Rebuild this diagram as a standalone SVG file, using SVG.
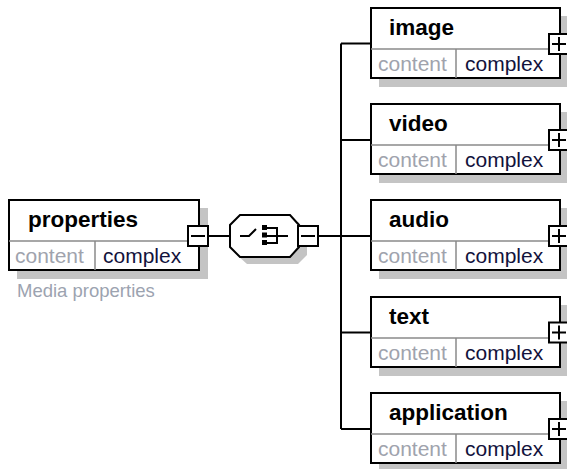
<svg xmlns="http://www.w3.org/2000/svg" width="567" height="469" viewBox="0 0 567 469">
<defs>
<style>
.shadow{fill:#c4c4c4;stroke:none}
.box{fill:#fff;stroke:#000;stroke-width:2}
.div{stroke:#8a8a8a;stroke-width:1.5;fill:none}
.hdr{font-family:"Liberation Sans",Arial,sans-serif;font-size:22.5px;font-weight:bold;fill:#000}
.lab{font-family:"Liberation Sans",Arial,sans-serif;font-size:21px;fill:#a0a3ad}
.val{font-family:"Liberation Sans",Arial,sans-serif;font-size:21px;fill:#12123c}
.doc{font-family:"Liberation Sans",Arial,sans-serif;font-size:18.5px;fill:#9ca3b0}
.pm{fill:#fff;stroke:#000;stroke-width:2}
.sign{stroke:#000;stroke-width:2;fill:none}
.conn{stroke:#000;stroke-width:2;fill:none}
</style>
<g id="plus">
<rect class="pm" x="0" y="0" width="20" height="20"/>
<path class="sign" d="M3 10H17M10 3V17"/>
</g>
<g id="minus">
<rect class="pm" x="0" y="0" width="20" height="20"/>
<path class="sign" d="M3 10H17"/>
</g>
</defs>
<rect width="567" height="469" fill="#fff"/>

<g id="connectors">
<path class="conn" d="M208 236H230"/>
<path class="conn" d="M318 236H341"/>
<path class="conn" d="M341 43.5V429"/>
<path class="conn" d="M341 43.5H371M341 140H371M341 236H371M341 332.5H371M341 429H371"/>
</g>

<g id="properties">
<rect class="shadow" x="17" y="208" width="191" height="71"/>
<rect class="box" x="9" y="200" width="190" height="70"/>
<path class="div" d="M9 241H199M95 241V270"/>
<text class="hdr" x="28" y="227">properties</text>
<text class="lab" x="15" y="262.5">content</text>
<text class="val" x="103" y="262.5">complex</text>
<use href="#minus" x="188" y="226"/>
<text class="doc" x="17" y="297">Media properties</text>
</g>

<g id="choice">
<polygon class="shadow" points="247,222 298,222 307,232 307,255 298,264 247,264 237,255 237,232"/>
<polygon class="box" points="240,215 290,215 299,225 299,247 290,257 240,257 230,247 230,225"/>
<path class="sign" d="M240 236H249L256 229"/>
<rect x="262" y="225" width="5" height="5" fill="#000"/>
<rect x="262" y="232.5" width="5" height="5" fill="#000"/>
<rect x="262" y="240" width="5" height="5" fill="#000"/>
<path class="sign" d="M267 228H277V243H267M267 236H288"/>
<use href="#minus" x="298" y="226"/>
</g>

<g id="image">
<rect class="shadow" x="379" y="16" width="190" height="71"/>
<rect class="box" x="371" y="8" width="189" height="70"/>
<path class="div" d="M371 49H560M456 49V78"/>
<text class="hdr" x="389" y="35">image</text>
<text class="lab" x="378" y="70.5">content</text>
<text class="val" x="465" y="70.5">complex</text>
<use href="#plus" x="549" y="34"/>
</g>

<g id="video">
<rect class="shadow" x="379" y="112" width="190" height="71"/>
<rect class="box" x="371" y="104" width="189" height="70"/>
<path class="div" d="M371 145H560M456 145V174"/>
<text class="hdr" x="389" y="131">video</text>
<text class="lab" x="378" y="166.5">content</text>
<text class="val" x="465" y="166.5">complex</text>
<use href="#plus" x="549" y="130"/>
</g>

<g id="audio">
<rect class="shadow" x="379" y="208" width="190" height="71"/>
<rect class="box" x="371" y="200" width="189" height="70"/>
<path class="div" d="M371 241H560M456 241V270"/>
<text class="hdr" x="389" y="227">audio</text>
<text class="lab" x="378" y="262.5">content</text>
<text class="val" x="465" y="262.5">complex</text>
<use href="#plus" x="549" y="226"/>
</g>

<g id="text">
<rect class="shadow" x="379" y="305" width="190" height="71"/>
<rect class="box" x="371" y="297" width="189" height="70"/>
<path class="div" d="M371 338H560M456 338V367"/>
<text class="hdr" x="389" y="324">text</text>
<text class="lab" x="378" y="359.5">content</text>
<text class="val" x="465" y="359.5">complex</text>
<use href="#plus" x="549" y="322.5"/>
</g>

<g id="application">
<rect class="shadow" x="379" y="401" width="190" height="71"/>
<rect class="box" x="371" y="393" width="189" height="70"/>
<path class="div" d="M371 434H560M456 434V463"/>
<text class="hdr" x="389" y="420">application</text>
<text class="lab" x="378" y="455.5">content</text>
<text class="val" x="465" y="455.5">complex</text>
<use href="#plus" x="549" y="419"/>
</g>
</svg>
